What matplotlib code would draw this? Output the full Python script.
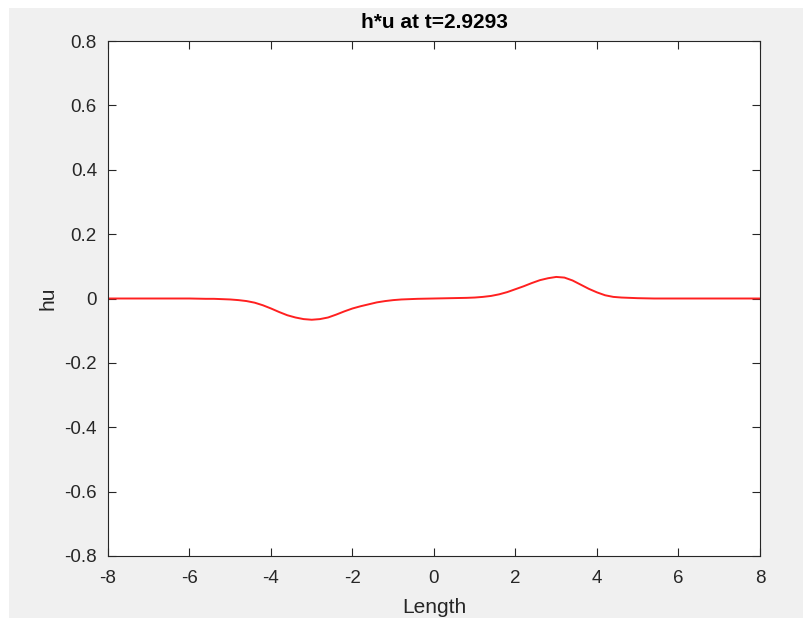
import matplotlib
matplotlib.use("Agg")
import matplotlib.pyplot as plt
from matplotlib.patches import Rectangle

x_vals = [-8, -7, -6, -5.6, -5.4, -5.2, -5.0, -4.8, -4.6, -4.4, -4.2, -4.0, -3.8, -3.6,
          -3.4, -3.2, -3.0, -2.8, -2.6, -2.4, -2.2, -2.0, -1.8, -1.6, -1.4, -1.2, -1.0,
          -0.8, -0.6, -0.4, 0, 0.4, 0.8, 1.0, 1.2, 1.4, 1.6, 1.8, 2.0, 2.2, 2.4, 2.6,
          2.8, 3.0, 3.2, 3.4, 3.6, 3.8, 4.0, 4.2, 4.4, 4.6, 4.8, 5.0, 5.4, 6, 7, 8]
hu_vals = [0, 0, 0, -0.001, -0.001, -0.002, -0.003, -0.005, -0.008, -0.013, -0.021,
           -0.031, -0.042, -0.052, -0.059, -0.064, -0.066, -0.064, -0.059, -0.050,
           -0.040, -0.031, -0.024, -0.018, -0.012, -0.008, -0.005, -0.003, -0.002,
           -0.001, 0, 0.001, 0.002, 0.003, 0.005, 0.008, 0.013, 0.020, 0.029, 0.038,
           0.048, 0.057, 0.063, 0.067, 0.065, 0.056, 0.043, 0.030, 0.019, 0.010,
           0.005, 0.003, 0.002, 0.001, 0, 0, 0, 0]
xticks = [-8, -6, -4, -2, 0, 2, 4, 6, 8]
yticks = [-0.8, -0.6, -0.4, -0.2, 0, 0.2, 0.4, 0.6, 0.8]
xtick_labels = ["-8", "-6", "-4", "-2", "0", "2", "4", "6", "8"]
ytick_labels = ["-0.8", "-0.6", "-0.4", "-0.2", "0", "0.2", "0.4", "0.6", "0.8"]

plt.rcParams['font.family'] = ['Liberation Sans', 'DejaVu Sans']

W, H = 804, 618
fig = plt.figure(figsize=(W / 100, H / 100), dpi=100, facecolor='white')
fig.patches.append(Rectangle((9 / W, 0), 1 - 9 / W, 1 - 8 / H, transform=fig.transFigure,
                             facecolor='#f0f0f0', edgecolor='none', zorder=-10))

ax = fig.add_axes([108 / W, 1 - 556 / H, (760 - 108) / W, (556 - 41) / H])
ax.set_facecolor('white')
ax.plot(x_vals, hu_vals, color='#ff2020', linewidth=1.4)
ax.set_xlim(-8, 8)
ax.set_ylim(-0.8, 0.8)
ax.set_xticks(xticks)
ax.set_xticklabels(xtick_labels)
ax.set_yticks(yticks)
ax.set_yticklabels(ytick_labels)
dark = '#262626'
for s in ax.spines.values():
    s.set_color(dark)
    s.set_linewidth(0.8)
ax.tick_params(direction='in', length=6, width=0.8, colors=dark, labelsize=13.5,
               top=True, right=True)
ax.tick_params(axis='x', pad=10)
ax.tick_params(axis='y', pad=8)
ax.set_xlabel('Length', fontsize=15, color=dark, labelpad=8)
ax.set_ylabel('hu', fontsize=15, color=dark, labelpad=5)
ax.set_title('h*u at t=2.9293', fontsize=15, fontweight='bold', color='black', pad=9.5)

fig.savefig('out.png', dpi=100, facecolor=fig.get_facecolor())
